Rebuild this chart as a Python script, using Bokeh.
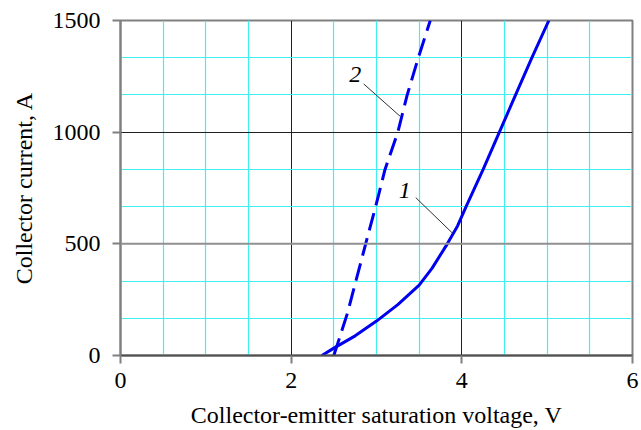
from bokeh.plotting import figure
from bokeh.models import FixedTicker, Range1d, Span
from bokeh.core.properties import value
from bokeh.embed import file_html
from bokeh.resources import INLINE

# ---- data ----
x_ticks = [0, 2, 4, 6]
y_ticks = [0, 500, 1000, 1500]
x_minor = [0.5, 1, 1.5, 2.5, 3, 3.5, 4.5, 5, 5.5]
y_minor = [500 / 3 * k for k in range(1, 9) if k % 3]

# curve 1 (solid)
curve1_v = [2.36, 2.5, 2.75, 3.0, 3.25, 3.5, 3.65, 3.83, 3.95, 4.05, 4.25, 4.44, 4.63, 4.82, 5.02]
curve1_i = [0, 33, 88, 154, 228, 315, 390, 500, 580, 667, 833, 1000, 1167, 1333, 1500]

# curve 2 (dashed)
curve2_v = [2.5, 2.66, 2.88, 2.99, 3.10, 3.25, 3.36, 3.49, 3.63]
curve2_i = [0, 190, 510, 667, 833, 1000, 1167, 1333, 1500]

# curve labels and their leader lines
anno_text = ["1", "2"]
anno_x = [3.33, 2.75]
anno_y = [737, 1256]
leader_x0 = [3.46, 2.85]
leader_y0 = [707, 1216]
leader_x1 = [3.89, 3.28]
leader_y1 = [548, 1070]

FONT = "Liberation Serif"

p = figure(width=641, height=430, output_backend="svg", toolbar_location=None,
           x_range=Range1d(0, 6), y_range=Range1d(0, 1500),
           min_border_left=120, min_border_right=9, min_border_top=20, min_border_bottom=75)
p.background_fill_color = "white"
p.border_fill_color = "white"
p.outline_line_color = "#808080"
p.outline_line_width = 2

p.xaxis.ticker = FixedTicker(ticks=x_ticks, minor_ticks=x_minor)
p.yaxis.ticker = FixedTicker(ticks=y_ticks, minor_ticks=y_minor)

for ax in (p.xaxis[0], p.yaxis[0]):
    ax.major_label_text_font = FONT
    ax.major_label_text_font_size = "24px"
    ax.major_label_text_color = "black"
    ax.major_tick_out = 8
    ax.major_tick_in = 0
    ax.minor_tick_line_color = None
    ax.axis_line_width = 2
    ax.major_tick_line_width = 2
    ax.axis_label_text_font = FONT
    ax.axis_label_text_font_size = "24px"
    ax.axis_label_text_font_style = "normal"
    ax.axis_label_text_color = "black"

p.yaxis.axis_line_color = "#808080"
p.yaxis.major_tick_line_color = "#808080"
p.yaxis.major_label_standoff = 12
p.yaxis.axis_label = "Collector current, A"
p.yaxis.axis_label_standoff = 13

p.xaxis.axis_line_color = "#505050"
p.xaxis.major_tick_line_color = "#808080"
p.xaxis.major_label_standoff = 9
p.xaxis.axis_label = "Collector-emitter saturation voltage, V"
p.xaxis.axis_label_standoff = 11

for g in (p.xgrid[0], p.ygrid[0]):
    g.grid_line_color = "#202020"
    g.grid_line_width = 1
    g.minor_grid_line_color = "#40F0F0"
    g.minor_grid_line_width = 1.2

# the 500 A grid line is drawn grey and heavier in the reference
p.add_layout(Span(location=y_ticks[1], dimension="width",
                  line_color="#909090", line_width=2))

p.line(curve1_v, curve1_i, line_color="#0000F0", line_width=3)
p.line(curve2_v, curve2_i, line_color="#0000F0", line_width=3, line_dash="18 8")

p.segment(x0=leader_x0, y0=leader_y0, x1=leader_x1, y1=leader_y1,
          line_color="#303030", line_width=1)
p.text(x=anno_x, y=anno_y, text=anno_text, text_font=value(FONT),
       text_font_size="24px", text_font_style="italic",
       text_align="center", text_baseline="middle", text_color="black")

open("out.html", "w").write(file_html(p, INLINE))
